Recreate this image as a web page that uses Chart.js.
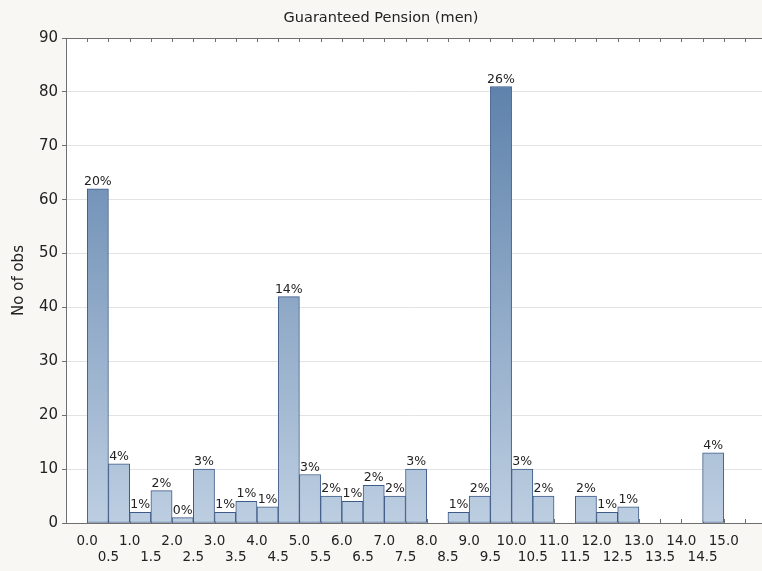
<!DOCTYPE html>
<html>
<head>
<meta charset="utf-8">
<title>Guaranteed Pension (men)</title>
<script src="https://cdn.jsdelivr.net/npm/chart.js@4/dist/chart.umd.min.js"></script>
<style>
  html, body { margin: 0; padding: 0; background: #f8f7f3; overflow: hidden; }
  #wrap { width: 762px; height: 571px; }
</style>
</head>
<body>
<div id="wrap"><canvas id="chart" width="762" height="571"></canvas></div>
<script>
// Histogram bins: left edge of each bin (width 0.5) and number of observations
const binStarts = [0.0, 0.5, 1.0, 1.5, 2.0, 2.5, 3.0, 3.5, 4.0, 4.5,
                   5.0, 5.5, 6.0, 6.5, 7.0, 7.5, 8.0, 8.5, 9.0, 9.5,
                   10.0, 10.5, 11.0, 11.5, 12.0, 12.5, 13.0, 13.5, 14.0, 14.5];
const counts = [62, 11, 2, 6, 1, 10, 2, 4, 3, 42,
                9, 5, 4, 7, 5, 10, 0, 2, 5, 81,
                10, 5, 0, 5, 2, 3, 0, 0, 0, 13];
const binWidth = 0.5;

// Labels written at the bin edges along the x axis
const edgeValues = [0.0, 0.5, 1.0, 1.5, 2.0, 2.5, 3.0, 3.5, 4.0, 4.5, 5.0, 5.5,
                    6.0, 6.5, 7.0, 7.5, 8.0, 8.5, 9.0, 9.5, 10.0, 10.5, 11.0,
                    11.5, 12.0, 12.5, 13.0, 13.5, 14.0, 14.5, 15.0];
const edgeLabels = ['0.0', '0.5', '1.0', '1.5', '2.0', '2.5', '3.0', '3.5', '4.0', '4.5',
                    '5.0', '5.5', '6.0', '6.5', '7.0', '7.5', '8.0', '8.5', '9.0', '9.5',
                    '10.0', '10.5', '11.0', '11.5', '12.0', '12.5', '13.0', '13.5',
                    '14.0', '14.5', '15.0'];
// Tick positions drawn on the x axis (one step beyond each end)
const xTickValues = [-0.5].concat(edgeValues, [15.5]);
const yTicks = [0, 10, 20, 30, 40, 50, 60, 70, 80, 90];

const total = counts.reduce((a, b) => a + b, 0);
const FONT = "'DejaVu Sans', sans-serif";

let barGradient = null;
function barFill(ctx) {
  const chart = ctx.chart;
  const area = chart.chartArea;
  if (!area) return '#8fa9c9';
  if (!barGradient || barGradient._top !== area.top || barGradient._bottom !== area.bottom) {
    const g = chart.ctx.createLinearGradient(0, area.top, 0, area.bottom);
    g.addColorStop(0, '#547aa6');
    g.addColorStop(1, '#bdcee1');
    g._top = area.top; g._bottom = area.bottom;
    barGradient = g;
  }
  return barGradient;
}

// White plot background
const plotBackground = {
  id: 'plotBackground',
  beforeDraw(chart) {
    const { ctx, chartArea: a } = chart;
    ctx.save();
    ctx.fillStyle = '#ffffff';
    ctx.fillRect(a.left, a.top, a.right - a.left, a.bottom - a.top);
    ctx.restore();
  }
};

// Frame on top plus small inward ticks at every bin edge
const framePlugin = {
  id: 'frame',
  beforeDatasetsDraw(chart) {
    const { ctx, chartArea: a, scales: { x } } = chart;
    ctx.save();
    ctx.strokeStyle = '#6f6f6f';
    ctx.lineWidth = 1;
    ctx.beginPath();
    xTickValues.forEach(v => {
      const px = Math.round(x.getPixelForValue(v)) + 0.5;
      ctx.moveTo(px, a.bottom);
      ctx.lineTo(px, a.bottom - 4);
    });
    ctx.stroke();
    ctx.restore();
  },
  afterDatasetsDraw(chart) {
    const { ctx, chartArea: a, scales: { x } } = chart;
    ctx.save();
    ctx.strokeStyle = '#6f6f6f';
    ctx.lineWidth = 1;
    ctx.beginPath();
    ctx.moveTo(a.left, Math.round(a.top) + 0.5);
    ctx.lineTo(a.right, Math.round(a.top) + 0.5);
    xTickValues.forEach(v => {
      if (v < 0) return;
      const px = Math.round(x.getPixelForValue(v)) + 0.5;
      ctx.moveTo(px, a.top);
      ctx.lineTo(px, a.top + 4);
    });
    ctx.stroke();
    ctx.restore();
  }
};

// Percentage of all observations written above each non-empty bar
const percentPlugin = {
  id: 'percentLabels',
  afterDatasetsDraw(chart) {
    const { ctx } = chart;
    const meta = chart.getDatasetMeta(0);
    ctx.save();
    ctx.font = '12.5px ' + FONT;
    ctx.fillStyle = '#222222';
    ctx.textAlign = 'center';
    ctx.textBaseline = 'bottom';
    meta.data.forEach((bar, i) => {
      if (!counts[i]) return;
      const pct = Math.round(counts[i] / total * 100);
      ctx.fillText(pct + '%', bar.x, bar.y - 1);
    });
    ctx.restore();
  }
};

new Chart(document.getElementById('chart'), {
  type: 'bar',
  data: {
    datasets: [{
      label: 'No of obs',
      data: binStarts.map((s, i) => ({ x: s + binWidth / 2, y: counts[i] })),
      backgroundColor: barFill,
      borderColor: '#3e5b87',
      borderWidth: 1,
      borderSkipped: false,
      barPercentage: 1,
      categoryPercentage: 1
    }]
  },
  options: {
    responsive: false,
    animation: false,
    events: [],
    layout: { padding: { left: 0, right: 0, top: 0, bottom: 0 } },
    plugins: {
      legend: { display: false },
      tooltip: { enabled: false },
      title: {
        display: true,
        text: 'Guaranteed Pension (men)',
        color: '#222222',
        font: { family: FONT, size: 14.5, weight: 'normal', lineHeight: 1.2 },
        padding: { top: 10, bottom: 10.6 }
      }
    },
    scales: {
      x: {
        type: 'linear',
        min: -0.5,
        max: 15.9,
        offset: false,
        afterBuildTicks(scale) {
          scale.ticks = xTickValues.map(v => ({ value: v }));
        },
        afterFit(scale) { scale.height = 48; },
        grid: { display: false, offset: false },
        border: { display: true, color: '#6f6f6f', width: 1 },
        ticks: {
          autoSkip: false,
          maxRotation: 0,
          minRotation: 0,
          padding: 2,
          color: '#222222',
          font: { family: FONT, size: 13.5, lineHeight: 1.2 },
          callback(value) {
            const i = edgeValues.findIndex(e => Math.abs(e - value) < 1e-9);
            if (i < 0) return '';
            return i % 2 === 0 ? [edgeLabels[i], ''] : ['', edgeLabels[i]];
          }
        }
      },
      y: {
        min: 0,
        max: 90,
        afterBuildTicks(scale) {
          scale.ticks = yTicks.map(v => ({ value: v }));
        },
        afterFit(scale) { scale.width = 66; },
        grid: {
          color: '#e3e3e3',
          tickColor: '#6f6f6f',
          tickLength: 4,
          drawTicks: true
        },
        border: { display: true, color: '#6f6f6f', width: 1 },
        ticks: {
          padding: 4,
          color: '#222222',
          font: { family: FONT, size: 15 }
        },
        title: {
          display: true,
          text: 'No of obs',
          color: '#222222',
          font: { family: FONT, size: 15 },
          padding: { top: 10, bottom: 0 }
        }
      }
    }
  },
  plugins: [plotBackground, framePlugin, percentPlugin]
});
</script>
</body>
</html>
